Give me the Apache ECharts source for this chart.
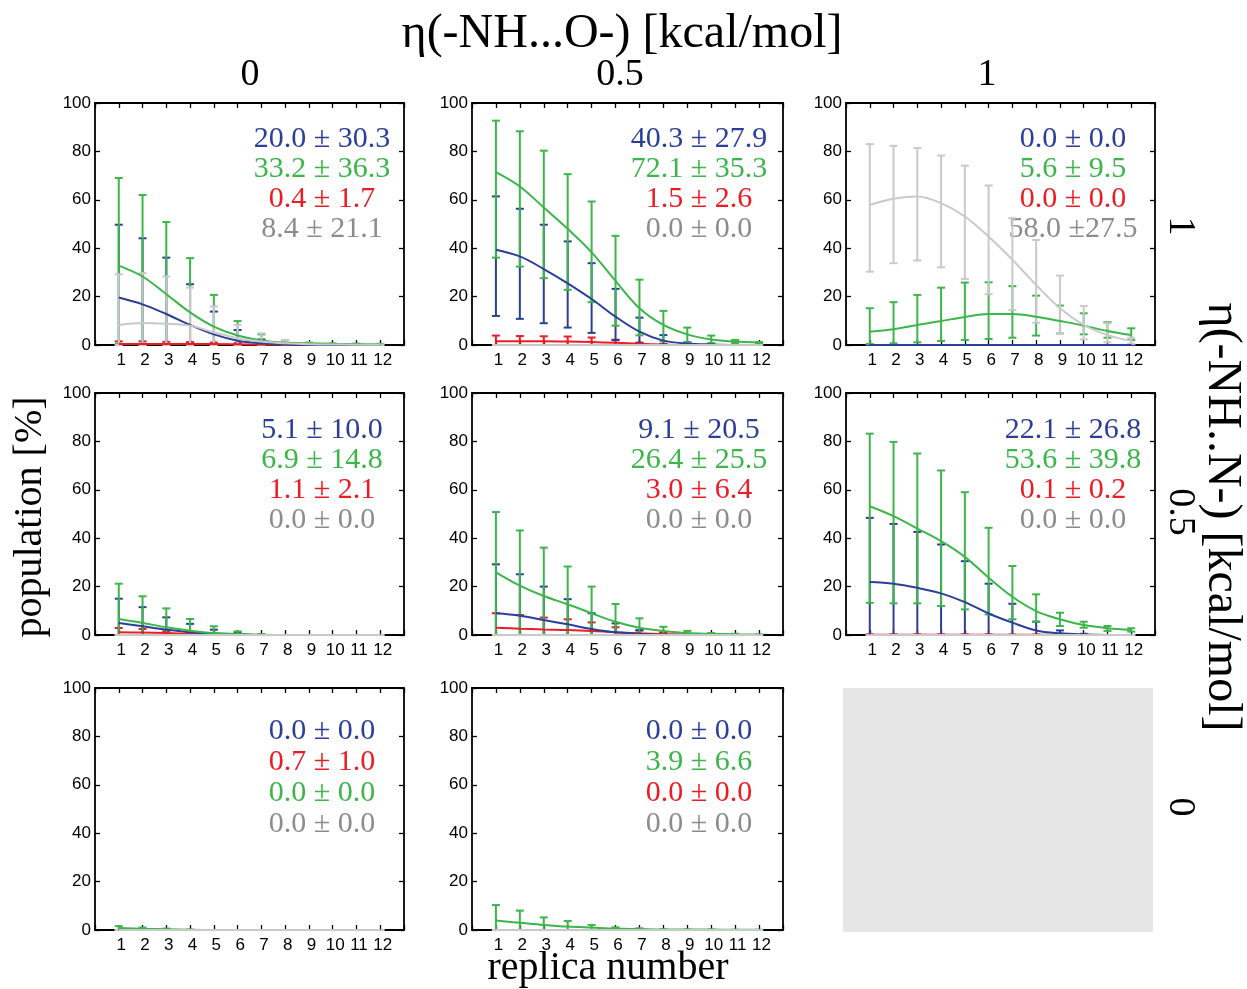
<!DOCTYPE html>
<html><head><meta charset="utf-8">
<script src="https://cdn.jsdelivr.net/npm/echarts@6/dist/echarts.min.js"></script>
<style>html,body{margin:0;padding:0;background:#fff}#c{width:1247px;height:989px}</style>
</head><body><div id="c"></div>
<script>
// ---------------- DATA ----------------
const replicas = [1,2,3,4,5,6,7,8,9,10,11,12];
const yTicks = [0,20,40,60,80,100];

const titleTop = "η(-NH...O-) [kcal/mol]";
const titleRight = "η(-NH..N-) [kcal/mol]";
const titleLeft = "population [%]";
const titleBottom = "replica number";
const colHeaders = ["0", "0.5", "1"];
const rowHeaders = ["1", "0.5", "0"];

// Panel 1 : row 1, col 1
const p1_blue_mean  = [19.6,16.8,12.8,8.3,4.4,1.8,0.7,0.2,0,0,0,0];
const p1_blue_lo    = [0,0,0,0,0,0,0,0,0,0,0,0];
const p1_blue_hi    = [49.7,44.1,36.1,25.1,13.8,6.2,2.3,0.5,0,0,0,0];
const p1_green_mean = [32.8,28.3,21.0,13.5,7.6,3.9,1.9,1.0,0.7,0.5,0.4,0.3];
const p1_green_lo   = [0.5,0.5,0.5,0,0,0,0,0,0,0,0,0];
const p1_green_hi   = [69.0,62.0,50.8,35.9,20.7,9.9,4.4,2.0,1.0,0.7,0.6,0.5];
const p1_red_mean   = [0.4,0.4,0.4,0.4,0.4,0.3,0.2,0.1,0,0,0,0];
const p1_red_lo     = [0,0,0,0,0,0,0,0,0,0,0,0];
const p1_red_hi     = [1.5,1.5,1.3,1.2,1.0,0.8,0.5,0.3,0,0,0,0];
const p1_gray_mean  = [8.3,9.1,8.8,8.0,5.2,2.8,1.4,0.7,0.3,0.2,0.1,0.1];
const p1_gray_lo    = [0,0,0,0,0,0,0,0,0,0,0,0];
const p1_gray_hi    = [29.2,29.7,28.3,23.7,15.9,8.3,4.8,2.1,1.0,0.5,0.3,0.2];
const p1_stats = ["20.0 ± 30.3","33.2 ± 36.3","0.4 ± 1.7","8.4 ± 21.1"];
const p1_statColors = ["blue","green","red","graytext"];

// Panel 2 : row 1, col 2
const p2_blue_mean  = [39.4,36.6,31.4,25.5,19.0,11.7,5.5,1.8,0.6,0.2,0,0];
const p2_blue_lo    = [12.0,10.8,9.0,7.2,5.0,2.0,0.7,0.2,0,0,0,0];
const p2_blue_hi    = [61.4,56.3,49.7,42.8,33.8,23.2,11.3,4.1,1.1,0.3,0,0];
const p2_green_mean = [71.4,65.5,56.8,48.0,38.3,26.5,15.2,8.3,4.4,2.3,1.4,1.0];
const p2_green_lo   = [36.1,32.4,27.6,22.8,17.7,8.0,4.0,1.5,1.0,0.8,0.8,0.6];
const p2_green_hi   = [92.7,88.3,80.3,70.6,59.3,45.1,27.0,14.1,7.2,3.9,2.1,1.2];
const p2_red_mean   = [1.5,1.5,1.5,1.4,1.2,0.9,0.5,0.2,0,0,0,0];
const p2_red_lo     = [0,0,0,0,0,0,0,0,0,0,0,0];
const p2_red_hi     = [3.9,3.7,3.6,3.5,3.1,2.2,1.0,0.4,0,0,0,0];
const p2_gray_mean  = [0,0,0,0,0,0,0,0,0,0,0,0];
const p2_gray_lo    = [0,0,0,0,0,0,0,0,0,0,0,0];
const p2_gray_hi    = [0,0,0,0,0,0,0,0,0,0,0,0];
const p2_stats = ["40.3 ± 27.9","72.1 ± 35.3","1.5 ± 2.6","0.0 ± 0.0"];
const p2_statColors = ["blue","green","red","graytext"];

// Panel 3 : row 1, col 3
const p3_blue_mean  = [0,0,0,0,0,0,0,0,0,0,0,0];
const p3_blue_lo    = [0,0,0,0,0,0,0,0,0,0,0,0];
const p3_blue_hi    = [0,0,0,0,0,0,0,0,0,0,0,0];
const p3_green_mean = [5.5,6.5,8.3,9.9,11.6,12.8,12.8,11.7,9.9,8.0,5.8,4.1];
const p3_green_lo   = [0.4,0.7,1.1,1.7,2.1,2.5,3.0,3.9,4.8,4.4,3.0,2.1];
const p3_green_hi   = [15.2,17.7,20.7,23.7,25.8,25.9,24.3,20.4,16.3,13.1,9.4,6.9];
const p3_red_mean   = [0,0,0,0,0,0,0,0,0,0,0,0];
const p3_red_lo     = [0,0,0,0,0,0,0,0,0,0,0,0];
const p3_red_hi     = [0,0,0,0,0,0,0,0,0,0,0,0];
const p3_gray_mean  = [57.9,60.4,61.4,58.6,53.1,44.8,35.2,24.8,15.2,8.3,4.1,1.7];
const p3_gray_lo    = [30.3,33.8,34.9,32.1,27.3,21.0,14.5,9.2,4.8,2.3,1.1,0.5];
const p3_gray_hi    = [83.0,82.3,81.4,78.3,74.1,65.9,52.4,43.4,28.7,16.1,9.0,3.0];
const p3_stats = ["0.0 ± 0.0","5.6 ± 9.5","0.0 ± 0.0","58.0 ±27.5"];
const p3_statColors = ["blue","green","red","graytext"];

// Panel 4 : row 2, col 1
const p4_blue_mean  = [5.0,3.6,2.2,1.1,0.6,0.3,0,0,0,0,0,0];
const p4_blue_lo    = [0,0,0,0,0,0,0,0,0,0,0,0];
const p4_blue_hi    = [15.0,11.5,7.3,4.6,2.2,1.1,0,0,0,0,0,0];
const p4_green_mean = [6.6,5.0,3.2,1.8,0.8,0.4,0.1,0,0,0,0,0];
const p4_green_lo   = [0,0,0,0,0,0,0,0,0,0,0,0];
const p4_green_hi   = [21.2,16.0,11.0,6.6,3.6,1.5,0.4,0,0,0,0,0];
const p4_red_mean   = [1.1,1.0,0.8,0.5,0.3,0.1,0,0,0,0,0,0];
const p4_red_lo     = [0,0,0,0,0,0,0,0,0,0,0,0];
const p4_red_hi     = [2.9,2.5,1.5,0.8,0.4,0.2,0,0,0,0,0,0];
const p4_gray_mean  = [0,0,0,0,0,0,0,0,0,0,0,0];
const p4_gray_lo    = [0,0,0,0,0,0,0,0,0,0,0,0];
const p4_gray_hi    = [0,0,0,0,0,0,0,0,0,0,0,0];
const p4_stats = ["5.1 ± 10.0","6.9 ± 14.8","1.1 ± 2.1","0.0 ± 0.0"];
const p4_statColors = ["blue","green","red","graytext"];

// Panel 5 : row 2, col 2
const p5_blue_mean  = [9.0,8.0,6.2,4.4,2.5,1.1,0.5,0,0,0,0,0];
const p5_blue_lo    = [0,0,0,0,0,0,0,0,0,0,0,0];
const p5_blue_hi    = [29.2,25.1,20.0,14.8,9.0,4.8,2.1,0.7,0,0,0,0];
const p5_green_mean = [25.9,20.4,16.1,12.7,9.0,5.5,3.0,1.7,0.8,0.5,0.3,0.2];
const p5_green_lo   = [0,0,0,0,0,0,0,0,0,0,0,0];
const p5_green_hi   = [50.8,43.2,36.1,28.3,20.0,12.8,6.9,3.4,1.7,0.8,0.5,0.3];
const p5_red_mean   = [3.0,2.6,2.3,2.1,1.7,1.1,0.7,0.4,0.2,0,0,0];
const p5_red_lo     = [0,0,0,0,0,0,0,0,0,0,0,0];
const p5_red_hi     = [9.0,8.3,7.2,6.5,5.2,3.2,1.8,1.1,0.4,0,0,0];
const p5_gray_mean  = [0,0,0,0,0,0,0,0,0,0,0,0];
const p5_gray_lo    = [0,0,0,0,0,0,0,0,0,0,0,0];
const p5_gray_hi    = [0,0,0,0,0,0,0,0,0,0,0,0];
const p5_stats = ["9.1 ± 20.5","26.4 ± 25.5","3.0 ± 6.4","0.0 ± 0.0"];
const p5_statColors = ["blue","green","red","graytext"];

// Panel 6 : row 2, col 3
const p6_blue_mean  = [21.9,21.2,19.5,17.2,13.6,8.9,5.1,1.9,0.7,0.2,0,0];
const p6_blue_lo    = [0,0,0,0,0,0,0,0,0,0,0,0];
const p6_blue_hi    = [48.4,45.9,42.6,37.4,30.5,21.2,12.9,5.5,1.9,0.5,0,0];
const p6_green_mean = [53.2,49.1,44.0,38.8,32.3,23.7,15.8,9.9,6.5,4.1,2.8,2.1];
const p6_green_lo   = [13.3,13.1,13.1,12.0,10.6,8.5,6.5,5.5,3.7,3.0,1.7,1.4];
const p6_green_hi   = [83.2,79.8,75.0,68.0,59.0,44.3,28.5,16.8,9.2,5.5,3.7,2.8];
const p6_red_mean   = [0.1,0.1,0.1,0.1,0.1,0.1,0.1,0.1,0.1,0.1,0,0];
const p6_red_lo     = [0,0,0,0,0,0,0,0,0,0,0,0];
const p6_red_hi     = [0.3,0.3,0.3,0.3,0.3,0.3,0.2,0.2,0.2,0.1,0,0];
const p6_gray_mean  = [0,0,0,0,0,0,0,0,0,0,0,0];
const p6_gray_lo    = [0,0,0,0,0,0,0,0,0,0,0,0];
const p6_gray_hi    = [0,0,0,0,0,0,0,0,0,0,0,0];
const p6_stats = ["22.1 ± 26.8","53.6 ± 39.8","0.1 ± 0.2","0.0 ± 0.0"];
const p6_statColors = ["blue","green","red","graytext"];

// Panel 7 : row 3, col 1
const p7_blue_mean  = [0,0,0,0,0,0,0,0,0,0,0,0];
const p7_blue_lo    = [0,0,0,0,0,0,0,0,0,0,0,0];
const p7_blue_hi    = [0,0,0,0,0,0,0,0,0,0,0,0];
const p7_green_mean = [0.8,0.5,0.3,0.1,0,0,0,0,0,0,0,0];
const p7_green_lo   = [0,0,0,0,0,0,0,0,0,0,0,0];
const p7_green_hi   = [1.6,1.0,0.6,0.2,0,0,0,0,0,0,0,0];
const p7_red_mean   = [0,0,0,0,0,0,0,0,0,0,0,0];
const p7_red_lo     = [0,0,0,0,0,0,0,0,0,0,0,0];
const p7_red_hi     = [0,0,0,0,0,0,0,0,0,0,0,0];
const p7_gray_mean  = [0,0,0,0,0,0,0,0,0,0,0,0];
const p7_gray_lo    = [0,0,0,0,0,0,0,0,0,0,0,0];
const p7_gray_hi    = [0,0,0,0,0,0,0,0,0,0,0,0];
const p7_stats = ["0.0 ± 0.0","0.7 ± 1.0","0.0 ± 0.0","0.0 ± 0.0"];
const p7_statColors = ["blue","red","green","graytext"];

// Panel 8 : row 3, col 2
const p8_blue_mean  = [0,0,0,0,0,0,0,0,0,0,0,0];
const p8_blue_lo    = [0,0,0,0,0,0,0,0,0,0,0,0];
const p8_blue_hi    = [0,0,0,0,0,0,0,0,0,0,0,0];
const p8_green_mean = [3.9,3.0,2.1,1.4,1.0,0.6,0.4,0.2,0.2,0.2,0.1,0.1];
const p8_green_lo   = [0,0,0,0,0,0,0,0,0,0,0,0];
const p8_green_hi   = [10.3,8.0,5.2,3.7,2.1,1.1,0.7,0.3,0.2,0.2,0.1,0.1];
const p8_red_mean   = [0,0,0,0,0,0,0,0,0,0,0,0];
const p8_red_lo     = [0,0,0,0,0,0,0,0,0,0,0,0];
const p8_red_hi     = [0,0,0,0,0,0,0,0,0,0,0,0];
const p8_gray_mean  = [0,0,0,0,0,0,0,0,0,0,0,0];
const p8_gray_lo    = [0,0,0,0,0,0,0,0,0,0,0,0];
const p8_gray_hi    = [0,0,0,0,0,0,0,0,0,0,0,0];
const p8_stats = ["0.0 ± 0.0","3.9 ± 6.6","0.0 ± 0.0","0.0 ± 0.0"];
const p8_statColors = ["blue","green","red","graytext"];

// ---------------- STYLE / LAYOUT ----------------
const COLORS = {blue:'#2b3f98', green:'#3cb54a', red:'#ec1c24', gray:'#c9c9c9', graytext:'#8c8c8c'};
const colLeft = [95, 472, 846];
const colWidth = [309, 311, 309];
const rowTop = [103, 393, 688];
const rowHeight = [242, 242, 242];
const statFirst = [36, 37, 43];
const statStep = [30, 30, 31];
const statCenter = 227;
const SERIF = "'Liberation Serif','Times New Roman',serif";
const SANS = "'Liberation Sans',Arial,sans-serif";

const panels = [
  {r:0,c:0, d:{blue:[p1_blue_mean,p1_blue_lo,p1_blue_hi],green:[p1_green_mean,p1_green_lo,p1_green_hi],red:[p1_red_mean,p1_red_lo,p1_red_hi],gray:[p1_gray_mean,p1_gray_lo,p1_gray_hi]}, stats:p1_stats, sc:p1_statColors},
  {r:0,c:1, d:{blue:[p2_blue_mean,p2_blue_lo,p2_blue_hi],green:[p2_green_mean,p2_green_lo,p2_green_hi],red:[p2_red_mean,p2_red_lo,p2_red_hi],gray:[p2_gray_mean,p2_gray_lo,p2_gray_hi]}, stats:p2_stats, sc:p2_statColors},
  {r:0,c:2, d:{blue:[p3_blue_mean,p3_blue_lo,p3_blue_hi],green:[p3_green_mean,p3_green_lo,p3_green_hi],red:[p3_red_mean,p3_red_lo,p3_red_hi],gray:[p3_gray_mean,p3_gray_lo,p3_gray_hi]}, stats:p3_stats, sc:p3_statColors},
  {r:1,c:0, d:{blue:[p4_blue_mean,p4_blue_lo,p4_blue_hi],green:[p4_green_mean,p4_green_lo,p4_green_hi],red:[p4_red_mean,p4_red_lo,p4_red_hi],gray:[p4_gray_mean,p4_gray_lo,p4_gray_hi]}, stats:p4_stats, sc:p4_statColors},
  {r:1,c:1, d:{blue:[p5_blue_mean,p5_blue_lo,p5_blue_hi],green:[p5_green_mean,p5_green_lo,p5_green_hi],red:[p5_red_mean,p5_red_lo,p5_red_hi],gray:[p5_gray_mean,p5_gray_lo,p5_gray_hi]}, stats:p5_stats, sc:p5_statColors},
  {r:1,c:2, d:{blue:[p6_blue_mean,p6_blue_lo,p6_blue_hi],green:[p6_green_mean,p6_green_lo,p6_green_hi],red:[p6_red_mean,p6_red_lo,p6_red_hi],gray:[p6_gray_mean,p6_gray_lo,p6_gray_hi]}, stats:p6_stats, sc:p6_statColors},
  {r:2,c:0, d:{blue:[p7_blue_mean,p7_blue_lo,p7_blue_hi],green:[p7_green_mean,p7_green_lo,p7_green_hi],red:[p7_red_mean,p7_red_lo,p7_red_hi],gray:[p7_gray_mean,p7_gray_lo,p7_gray_hi]}, stats:p7_stats, sc:p7_statColors},
  {r:2,c:1, d:{blue:[p8_blue_mean,p8_blue_lo,p8_blue_hi],green:[p8_green_mean,p8_green_lo,p8_green_hi],red:[p8_red_mean,p8_red_lo,p8_red_hi],gray:[p8_gray_mean,p8_gray_lo,p8_gray_hi]}, stats:p8_stats, sc:p8_statColors}
];
const drawOrder = ['red','blue','green','gray'];

function errRender(color){
  return function(params, api){
    const x = api.value(0), lo = api.value(1), hi = api.value(2);
    const a = api.coord([x, hi]), b = api.coord([x, lo]);
    const w = 4, st = {stroke: color, lineWidth: 2};
    return {type:'group', children:[
      {type:'line', shape:{x1:a[0],y1:a[1],x2:b[0],y2:b[1]}, style:st},
      {type:'line', shape:{x1:a[0]-w,y1:a[1],x2:a[0]+w,y2:a[1]}, style:st},
      {type:'line', shape:{x1:b[0]-w,y1:b[1],x2:b[0]+w,y2:b[1]}, style:st}
    ]};
  };
}

const grids = [], xAxes = [], yAxes = [], series = [], graphics = [];
const axLine = {show:true, onZero:false, lineStyle:{color:'#000', width:1.8}};
const axTick = {show:true, inside:true, length:5, lineStyle:{color:'#000', width:1.3}};

panels.forEach((p, i) => {
  const left = colLeft[p.c], top = rowTop[p.r], w = colWidth[p.c], h = rowHeight[p.r];
  grids.push({left, top, width:w, height:h, containLabel:false, show:false});
  xAxes.push({gridIndex:i, type:'value', min:0, max:13, interval:1, position:'bottom',
    axisLine:axLine, axisTick:axTick, splitLine:{show:false},
    axisLabel:{show:true, margin:7, color:'#000', fontFamily:SANS, fontSize:17, padding:[0,0,0,5],
      formatter: v => (replicas.indexOf(v) >= 0 ? String(v) : '')}});
  xAxes.push({gridIndex:i, type:'value', min:0, max:13, interval:1, position:'top',
    axisLine:axLine, axisTick:axTick, splitLine:{show:false}, axisLabel:{show:false}});
  yAxes.push({gridIndex:i, type:'value', min:0, max:100, interval:20, position:'left',
    axisLine:axLine, axisTick:axTick, splitLine:{show:false},
    axisLabel:{show:true, margin:4, color:'#000', fontFamily:SANS, fontSize:17,
      formatter: v => (yTicks.indexOf(v) >= 0 ? String(v) : '')}});
  yAxes.push({gridIndex:i, type:'value', min:0, max:100, interval:20, position:'right',
    axisLine:axLine, axisTick:axTick, splitLine:{show:false}, axisLabel:{show:false}});

  drawOrder.forEach(name => {
    const [mean, lo, hi] = p.d[name];
    const col = COLORS[name];
    series.push({type:'custom', xAxisIndex:2*i, yAxisIndex:2*i, clip:false, z:3,
      renderItem: errRender(col), encode:{x:0, y:[1,2]},
      data: replicas.map((x, k) => [x, lo[k], hi[k]]), silent:true});
    series.push({type:'line', xAxisIndex:2*i, yAxisIndex:2*i, z:4, smooth:0.35,
      showSymbol:false, symbol:'none', lineStyle:{color:col, width:2}, silent:true,
      data: replicas.map((x, k) => [x, mean[k]])});
  });

  p.stats.forEach((t, k) => {
    graphics.push({type:'text', x: left + statCenter, y: top + statFirst[p.r] + k*statStep[p.r],
      style:{text:t, fill:COLORS[p.sc[k]], font:`30px ${SERIF}`, textAlign:'center', textVerticalAlign:'middle', align:'center', verticalAlign:'middle'}});
  });
});

// empty panel (row 3, col 3)
graphics.push({type:'rect', shape:{x:843, y:688, width:310, height:244}, style:{fill:'#e6e6e6'}, z:-1});

function txt(t, x, y, size, rot){
  return {type:'text', x, y, rotation: rot || 0,
    style:{text:t, fill:'#000', font:`${size}px ${SERIF}`, textAlign:'center', textVerticalAlign:'middle', align:'center', verticalAlign:'middle'}};
}
graphics.push(txt(titleTop, 622, 34, 48));
const colHeaderX = [250, 620, 987];
colHeaders.forEach((t, k) => graphics.push(txt(t, colHeaderX[k], 75, 38)));
const rowHeaderY = [226, 512, 807];
rowHeaders.forEach((t, k) => graphics.push(txt(t, 1180, rowHeaderY[k], 38, -Math.PI/2)));
graphics.push(txt(titleRight, 1222, 517, 48, -Math.PI/2));
graphics.push(txt(titleLeft, 30, 517, 40, Math.PI/2));
graphics.push(txt(titleBottom, 608, 968, 40));

const chart = echarts.init(document.getElementById('c'), null, {renderer:'canvas'});
chart.setOption({
  animation:false,
  backgroundColor:'#fff',
  grid:grids, xAxis:xAxes, yAxis:yAxes, series, graphic:{elements:graphics}
});
</script></body></html>
